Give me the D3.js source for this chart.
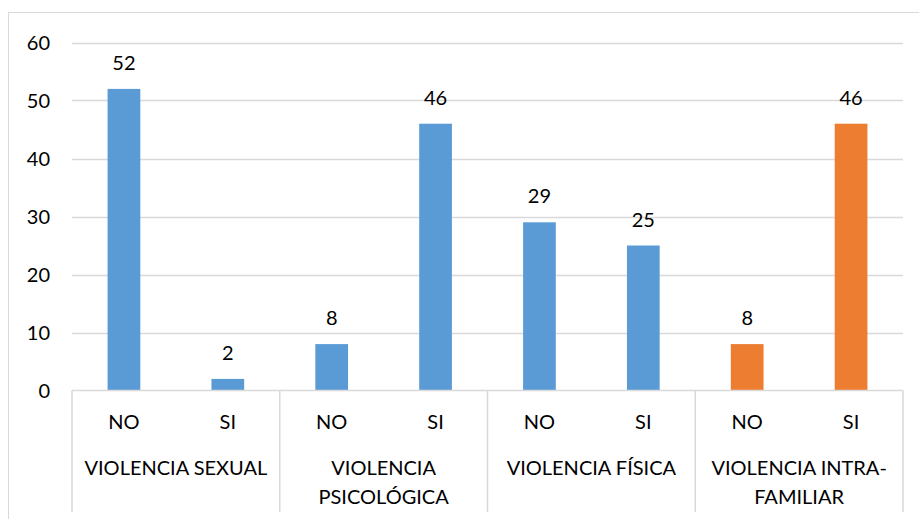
<!DOCTYPE html>
<html><head><meta charset="utf-8">
<script src="https://cdn.jsdelivr.net/npm/d3@7"></script>
<style>body{margin:0;background:#fff}svg{display:block}text{font-family:Lato,"Liberation Sans",Arial,sans-serif;fill:#000}</style>
</head><body>
<script>
const groups = ["VIOLENCIA SEXUAL","VIOLENCIA PSICOLÓGICA","VIOLENCIA FÍSICA","VIOLENCIA INTRA-FAMILIAR"];
const groupLines = [["VIOLENCIA SEXUAL"],["VIOLENCIA","PSICOLÓGICA"],["VIOLENCIA FÍSICA"],["VIOLENCIA INTRA-","FAMILIAR"]];
const subCats = ["NO","SI"];
const values = [52,2,8,46,29,25,8,46];
const barColors = ["#5B9BD5","#5B9BD5","#5B9BD5","#5B9BD5","#5B9BD5","#5B9BD5","#ED7D31","#ED7D31"];
const yTicks = [0,10,20,30,40,50,60];

const W=919,H=519,FS="20px";
const svg=d3.select("body").append("svg").attr("width",W).attr("height",H);
svg.append("rect").attr("x",8.5).attr("y",12.5).attr("width",W+20).attr("height",H+20).attr("fill","none").attr("stroke","#d9d9d9");

const left=72,right=903,y0=390.5,yTop=42.5;
const y=d3.scaleLinear().domain([0,60]).range([y0,yTop]);
const items=values.map((v,i)=>({i,v,g:Math.floor(i/2),s:subCats[i%2],c:barColors[i]}));
const x=d3.scaleBand().domain(d3.range(values.length)).range([left,right]).paddingInner(0.685).paddingOuter(0.3425);
const gx=d3.scaleBand().domain(d3.range(groups.length)).range([left,right]);

svg.append("g").selectAll("line").data(yTicks.filter(t=>t>0)).join("line")
  .attr("x1",left).attr("x2",right).attr("y1",d=>Math.round(y(d))+0.5).attr("y2",d=>Math.round(y(d))+0.5)
  .attr("stroke","#d9d9d9").attr("stroke-width",1.5);

svg.append("g").selectAll("text").data(yTicks).join("text")
  .attr("x",50).attr("y",d=>y(d)).attr("dy","0.35em").attr("text-anchor","end")
  .style("font-size",FS).text(d=>d);

svg.append("g").selectAll("rect").data(items).join("rect")
  .attr("x",d=>x(d.i)).attr("width",x.bandwidth()).attr("y",d=>y(d.v)).attr("height",d=>y0-y(d.v)).attr("fill",d=>d.c);

svg.append("g").selectAll("text").data(items).join("text")
  .attr("x",d=>x(d.i)+x.bandwidth()/2).attr("y",d=>y(d.v)-19).attr("text-anchor","middle")
  .style("font-size",FS).text(d=>d.v);

svg.append("line").attr("x1",left).attr("x2",right).attr("y1",y0).attr("y2",y0).attr("stroke","#d9d9d9").attr("stroke-width",1.5);
const seps=d3.range(groups.length+1).map(k=>k<groups.length?gx(k):right);
svg.append("g").selectAll("line").data(seps).join("line")
  .attr("x1",d=>d).attr("x2",d=>d).attr("y1",y0).attr("y2",512).attr("stroke","#d9d9d9").attr("stroke-width",1.5);

svg.append("g").selectAll("text").data(items).join("text")
  .attr("x",d=>x(d.i)+x.bandwidth()/2).attr("y",422).attr("dy","0.35em").attr("text-anchor","middle")
  .style("font-size",FS).text(d=>d.s);

const gl=svg.append("g").selectAll("text").data(groupLines).join("text")
  .attr("x",(d,i)=>gx(i)+gx.bandwidth()/2).attr("y",468).attr("text-anchor","middle").style("font-size",FS);
gl.each(function(lines){
  const t=d3.select(this), cx=+t.attr("x");
  lines.forEach((l,k)=>t.append("tspan").attr("x",cx).attr("y",468+k*29).attr("dy","0.35em").text(l));
});
</script>
</body></html>
